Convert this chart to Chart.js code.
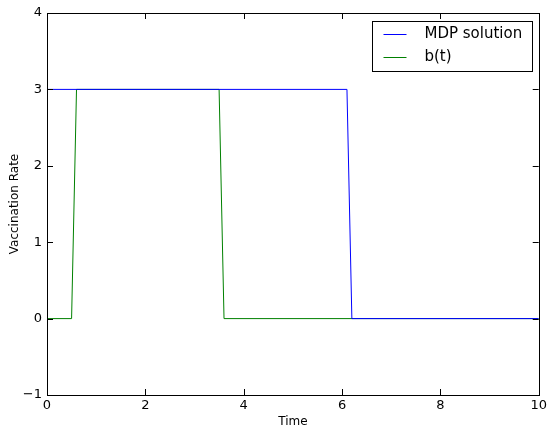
<!DOCTYPE html>
<html lang="en">

<head>
    <meta charset="UTF-8">
    <title>Vaccination Rate</title>
    <script src="https://cdn.jsdelivr.net/npm/chart.js"></script>
    <style>
        html, body {
            margin: 0;
            padding: 0;
            background: #ffffff;
        }

        #wrap {
            width: 550px;
            height: 429px;
        }
    </style>
</head>

<body>
    <div id="wrap">
        <canvas id="rateChart" width="550" height="429"></canvas>
    </div>

    <script>
        // policy switch points (time, rate)
        const mdpTime = [0, 6.1, 6.2, 10];
        const mdpRate = [3, 3, 0, 0];
        const bTime = [0, 0.5, 0.6, 3.5, 3.6, 10];
        const bRate = [0, 0, 3, 3, 0, 0];

        const xTicks = [0, 2, 4, 6, 8, 10];
        const yTicks = [-1, 0, 1, 2, 3, 4];

        const FONT = 'DejaVu Sans';

        function toPoints(xs, ys) {
            return xs.map((x, i) => ({ x: x, y: ys[i] }));
        }

        // matplotlib-style frame with inward ticks on all four sides
        const frameTicks = {
            id: 'frameTicks',
            afterDraw(chart) {
                const ctx = chart.ctx;
                const a = chart.chartArea;
                const xs = chart.scales.x;
                const ys = chart.scales.y;
                ctx.save();
                ctx.strokeStyle = '#000';
                ctx.lineWidth = 1;
                const len = 6;
                ctx.beginPath();
                xTicks.forEach(v => {
                    const px = Math.round(xs.getPixelForValue(v)) + 0.5;
                    ctx.moveTo(px, a.bottom);
                    ctx.lineTo(px, a.bottom - len);
                    ctx.moveTo(px, a.top);
                    ctx.lineTo(px, a.top + len);
                });
                yTicks.forEach(v => {
                    const py = Math.round(ys.getPixelForValue(v)) + 0.5;
                    ctx.moveTo(a.left, py);
                    ctx.lineTo(a.left + len, py);
                    ctx.moveTo(a.right, py);
                    ctx.lineTo(a.right - len, py);
                });
                ctx.stroke();
                ctx.strokeRect(Math.round(a.left) + 0.5, Math.round(a.top) + 0.5,
                    Math.round(a.right - a.left), Math.round(a.bottom - a.top));
                ctx.restore();
            }
        };

        const ctx = document.getElementById('rateChart').getContext('2d');
        new Chart(ctx, {
            type: 'line',
            data: {
                datasets: [{
                    label: 'MDP solution',
                    data: toPoints(mdpTime, mdpRate),
                    borderColor: '#0000ff',
                    backgroundColor: '#0000ff',
                    borderWidth: 1,
                    pointRadius: 0,
                    fill: false,
                    tension: 0
                }, {
                    label: 'b(t)',
                    data: toPoints(bTime, bRate),
                    borderColor: '#008000',
                    backgroundColor: '#008000',
                    borderWidth: 1,
                    pointRadius: 0,
                    fill: false,
                    tension: 0
                }]
            },
            options: {
                responsive: false,
                animation: false,
                layout: {
                    padding: { top: 13, right: 9, left: 0, bottom: 0 }
                },
                plugins: {
                    legend: { display: false },
                    tooltip: { enabled: false }
                },
                scales: {
                    x: {
                        type: 'linear',
                        min: 0,
                        max: 10,
                        afterBuildTicks: s => { s.ticks = xTicks.map(v => ({ value: v })); },
                        afterFit: s => { s.height = 34; },
                        grid: { display: false, drawTicks: false },
                        border: { display: false },
                        ticks: {
                            color: '#000',
                            padding: 3,
                            maxRotation: 0,
                            font: { family: FONT, size: 13 }
                        },
                        title: {
                            display: true,
                            text: 'Time',
                            color: '#000',
                            padding: { top: 3, bottom: 0 },
                            font: { family: FONT, size: 12 }
                        }
                    },
                    y: {
                        min: -1,
                        max: 4,
                        afterBuildTicks: s => { s.ticks = yTicks.map(v => ({ value: v })); },
                        afterFit: s => { s.width = 47; },
                        grid: { display: false, drawTicks: false },
                        border: { display: false },
                        ticks: {
                            color: '#000',
                            padding: 5,
                            font: { family: FONT, size: 13 },
                            callback: v => String(v).replace('-', '\u2212')
                        },
                        title: {
                            display: true,
                            text: 'Vaccination Rate',
                            color: '#000',
                            padding: { top: 8, bottom: 0 },
                            font: { family: FONT, size: 12 }
                        }
                    }
                }
            },
            plugins: [frameTicks, {
                // boxed legend in the upper right corner
                id: 'boxLegend',
                afterDraw(chart) {
                    const c = chart.ctx;
                    const a = chart.chartArea;
                    const bx = Math.round(a.right - 167) + 0.5;
                    const by = Math.round(a.top + 8) + 0.5;
                    const bw = 160, bh = 50;
                    c.save();
                    c.fillStyle = '#fff';
                    c.fillRect(bx, by, bw, bh);
                    c.strokeStyle = '#000';
                    c.lineWidth = 1;
                    c.strokeRect(bx, by, bw, bh);
                    c.font = '15px "' + FONT + '"';
                    c.textBaseline = 'middle';
                    chart.data.datasets.forEach((ds, i) => {
                        const y = Math.round(by + 12 + i * 23) + 0.5;
                        c.strokeStyle = ds.borderColor;
                        c.beginPath();
                        c.moveTo(bx + 11, y);
                        c.lineTo(bx + 34, y);
                        c.stroke();
                        c.fillStyle = '#000';
                        c.fillText(ds.label, bx + 52, y);
                    });
                    c.restore();
                }
            }]
        });
    </script>
</body>

</html>
